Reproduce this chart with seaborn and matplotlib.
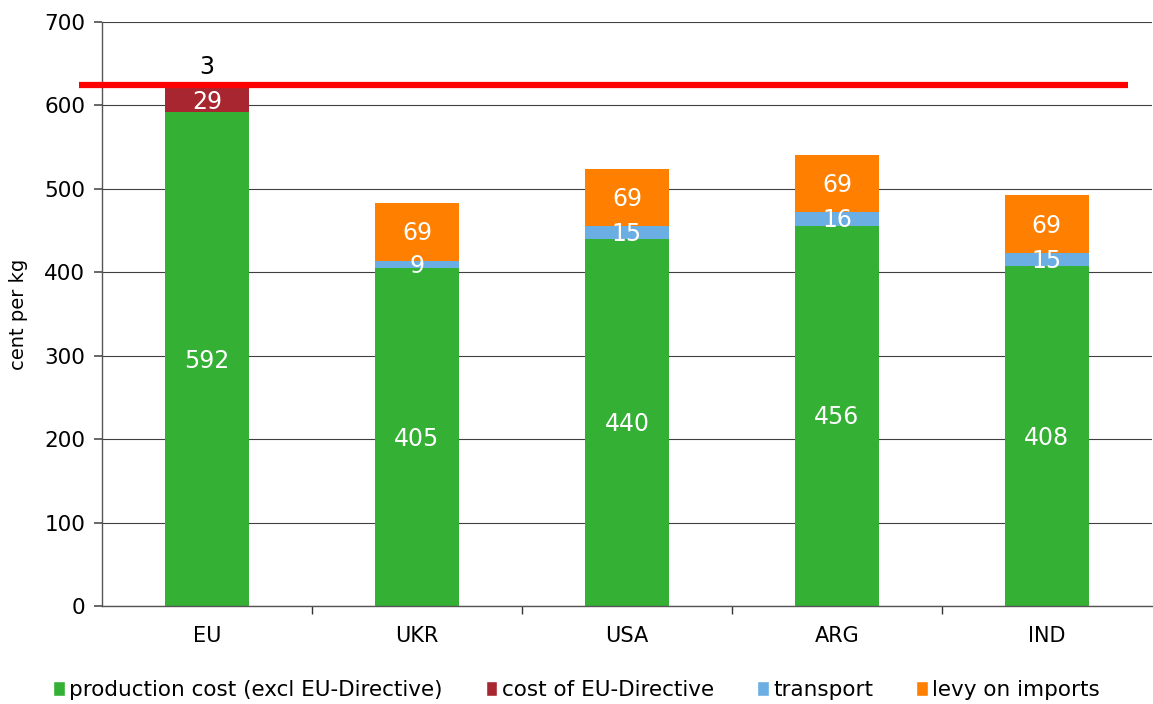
import matplotlib
matplotlib.use("Agg")
import matplotlib.pyplot as plt
from matplotlib.patches import Patch
import numpy as np
import pandas as pd
import seaborn as sns

# --- data (cent per kg) ---
countries = ["EU", "UKR", "USA", "ARG", "IND"]
production = [592, 405, 440, 456, 408]
eu_directive = [29, 0, 0, 0, 0]
transport = [3, 9, 15, 16, 15]
levy = [0, 69, 69, 69, 69]
reference_level = 624

series_names = ["production cost (excl EU-Directive)", "cost of EU-Directive",
                "transport", "levy on imports"]
series_values = [production, eu_directive, transport, levy]
series_colors = ["#34B034", "#A8262F", "#6AAEE4", "#FF7F00"]

sns.set_theme(style="white")
plt.rcParams["font.family"] = ["DejaVu Sans"]
plt.rcParams["text.color"] = "black"
plt.rcParams["xtick.color"] = "black"
plt.rcParams["ytick.color"] = "black"
plt.rcParams["axes.labelcolor"] = "black"

fig, ax = plt.subplots(figsize=(11.53, 7.04), dpi=100)
fig.subplots_adjust(left=0.0885, right=0.999, bottom=0.139, top=0.969)

# cumulative totals, drawn from the top layer down so each layer overlays the previous
stack = np.cumsum(np.array(series_values), axis=0)
for i in range(len(series_names) - 1, -1, -1):
    df = pd.DataFrame({"country": countries, "value": stack[i]})
    sns.barplot(data=df, x="country", y="value", color=series_colors[i],
                width=0.4, saturation=1, linewidth=0, ax=ax, zorder=2)

# segment labels
for j, c in enumerate(countries):
    base = 0
    for i, vals in enumerate(series_values):
        v = vals[j]
        if v == 0:
            continue
        if v < 5:
            ax.text(j, base + v + 8, f"{v}", ha="center", va="bottom",
                    color="black", fontsize=17, zorder=5)
        else:
            ax.text(j, base + v / 2 - 2, f"{v}", ha="center", va="center",
                    color="white", fontsize=17, zorder=5)
        base += v

# red reference line
ax.plot([-0.61, 4.385], [reference_level, reference_level], color="#FF0000",
        lw=4.5, clip_on=False, zorder=6, solid_capstyle="butt")

ax.set_xlim(-0.5, 4.5)
ax.set_ylim(0, 700)
ax.set_yticks(range(0, 701, 100))
ax.yaxis.grid(True, color="#404040", lw=0.8, zorder=0)
ax.set_axisbelow(True)
ax.set_xlabel("")
ax.set_ylabel("cent per kg", fontsize=14, labelpad=12)
ax.tick_params(axis="y", labelsize=15.5, left=True, length=6, color="#555555", pad=6)
ax.set_xticks(range(len(countries)))
ax.set_xticklabels(countries)
ax.set_xticks([0.5, 1.5, 2.5, 3.5], minor=True)
ax.tick_params(axis="x", which="major", length=0, labelsize=15, pad=14)
ax.tick_params(axis="x", which="minor", bottom=True, length=6, color="#333333")

for side in ["top", "right"]:
    ax.spines[side].set_visible(False)
for side in ["left", "bottom"]:
    ax.spines[side].set_color("#555555")
    ax.spines[side].set_linewidth(1)

handles = [Patch(facecolor=col, label=name) for name, col in zip(series_names, series_colors)]
fig.legend(handles=handles, loc="lower center", bbox_to_anchor=(0.5, -0.022), ncol=4,
           frameon=False, fontsize=15.5, handlelength=0.55, handleheight=0.7,
           handletextpad=0.2, columnspacing=2.0)

plt.savefig("out.png", dpi=100)
